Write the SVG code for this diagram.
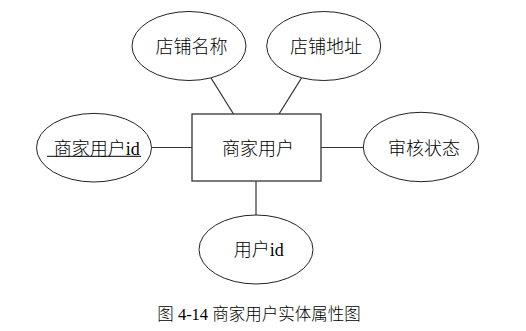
<svg xmlns="http://www.w3.org/2000/svg" width="526" height="331" viewBox="0 0 526 331">
<style>
.e{fill:#fff;stroke:#222;stroke-width:1}
.r{fill:#fff;stroke:#333;stroke-width:1.3}
.c{stroke:#333;stroke-width:1.2;fill:none}
.t{font-family:"Liberation Serif","Noto Sans CJK SC",serif;font-size:18px;font-weight:300;fill:#000;text-anchor:middle}
.cap{font-family:"Liberation Serif","Noto Sans CJK SC",serif;font-size:16.5px;font-weight:300;fill:#000;text-anchor:middle}
</style>
<rect width="526" height="331" fill="#fff"/>
<g id="connectors">
<line class="c" x1="211" y1="78" x2="233.5" y2="114"/>
<line class="c" x1="301.5" y1="78" x2="279" y2="114"/>
<line class="c" x1="151.5" y1="147.5" x2="192" y2="147.5"/>
<line class="c" x1="321" y1="147.5" x2="363" y2="147.5"/>
<line class="c" x1="256" y1="181" x2="256" y2="215"/>
</g>
<g id="shop-name">
<ellipse class="e" cx="189" cy="46" rx="57" ry="34.5"/>
<text class="t" x="191.5" y="53">店铺名称</text>
</g>
<g id="shop-address">
<ellipse class="e" cx="323.7" cy="46" rx="57" ry="34.5"/>
<text class="t" x="326" y="53">店铺地址</text>
</g>
<g id="merchant">
<rect class="r" x="192" y="114" width="129" height="67"/>
<text class="t" x="258" y="155">商家用户</text>
</g>
<g id="merchant-id">
<ellipse class="e" cx="94" cy="147.7" rx="57.5" ry="34.3"/>
<text class="t" x="96.7" y="155">商家用户id</text>
<line x1="47" y1="156.3" x2="141" y2="156.3" stroke="#000" stroke-width="1"/>
</g>
<g id="audit-status">
<ellipse class="e" cx="421" cy="147" rx="57.7" ry="34.7"/>
<text class="t" x="424" y="155">审核状态</text>
</g>
<g id="user-id">
<ellipse class="e" cx="256" cy="249.5" rx="57" ry="34.5"/>
<text class="t" x="258.7" y="256">用户id</text>
</g>
<text class="cap" x="259" y="320">图 4-14 商家用户实体属性图</text>
</svg>
